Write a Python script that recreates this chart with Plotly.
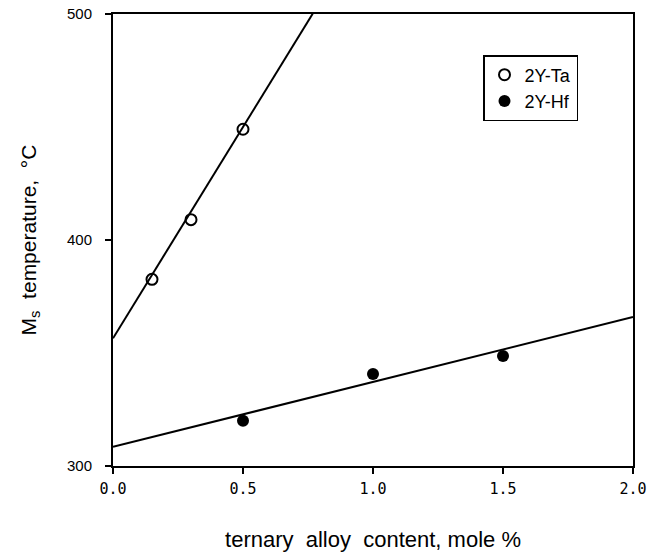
import numpy as np
import plotly.graph_objects as go

# Data
ta_x = [0.15, 0.30, 0.50]
ta_y = [382.6, 409.0, 449.0]
hf_x = [0.50, 1.00, 1.50]
hf_y = [320.0, 340.7, 348.7]

# fitted lines (intercept, slope) as drawn in the figure
ta_fit = [356.5, 187.0]
hf_fit = [308.5, 28.7]
ta_line_x = [0.0, 0.768]
hf_line_x = [0.0, 2.0]

x_ticks = [0.0, 0.5, 1.0, 1.5, 2.0]
x_ticktext = ["0.0", "0.5", "1.0", "1.5", "2.0"]
y_ticks = [300, 400, 500]

fig = go.Figure()

lx = np.array(ta_line_x)
fig.add_trace(go.Scatter(x=lx, y=ta_fit[0] + ta_fit[1] * lx, mode="lines",
                         line=dict(color="black", width=2), showlegend=False,
                         hoverinfo="skip"))
lx2 = np.array(hf_line_x)
fig.add_trace(go.Scatter(x=lx2, y=hf_fit[0] + hf_fit[1] * lx2, mode="lines",
                         line=dict(color="black", width=2), showlegend=False,
                         hoverinfo="skip"))

fig.add_trace(go.Scatter(x=ta_x, y=ta_y, mode="markers", name="2Y-Ta",
                         marker=dict(symbol="circle-open", size=11, color="black",
                                     line=dict(width=2, color="black"))))
fig.add_trace(go.Scatter(x=hf_x, y=hf_y, mode="markers", name="2Y-Hf",
                         marker=dict(symbol="circle", size=12, color="black")))

axis_common = dict(showline=True, linecolor="black", linewidth=2, mirror=True,
                   showgrid=False, zeroline=False, ticks="outside", ticklen=6,
                   tickwidth=1.5, tickcolor="black")

fig.update_xaxes(range=[0, 2], tickvals=x_ticks, ticktext=x_ticktext,
                 tickfont=dict(family="DejaVu Sans Mono", size=15, color="black"),
                 ticklabelstandoff=2,
                 title=dict(text="ternary  alloy  content, mole %",
                            font=dict(family="Liberation Sans, Arial", size=22, color="black"),
                            standoff=35),
                 **axis_common)
fig.update_yaxes(range=[300, 500], tickvals=y_ticks,
                 tickfont=dict(family="Liberation Sans, Arial", size=15, color="black"),
                 ticklabelstandoff=10,
                 title=dict(text="M<sub>s</sub>  temperature,  °C",
                            font=dict(family="Liberation Sans, Arial", size=21, color="black"),
                            standoff=25),
                 **axis_common)

px0, px1 = 113, 633
py0, py1 = 14, 466
fig.update_layout(
    width=659, height=559,
    margin=dict(l=px0, r=659 - px1, t=py0, b=559 - py1, autoexpand=False),
    plot_bgcolor="white", paper_bgcolor="white",
    showlegend=True,
    legend=dict(
        x=(483 - px0) / (px1 - px0), y=1 - (55 - py0) / (py1 - py0),
        xanchor="left", yanchor="top",
        bordercolor="black", borderwidth=1.5, bgcolor="white",
        font=dict(family="Liberation Sans, Arial", size=18, color="black"),
        itemwidth=30,
    ),
)

fig.write_html("out.html")
